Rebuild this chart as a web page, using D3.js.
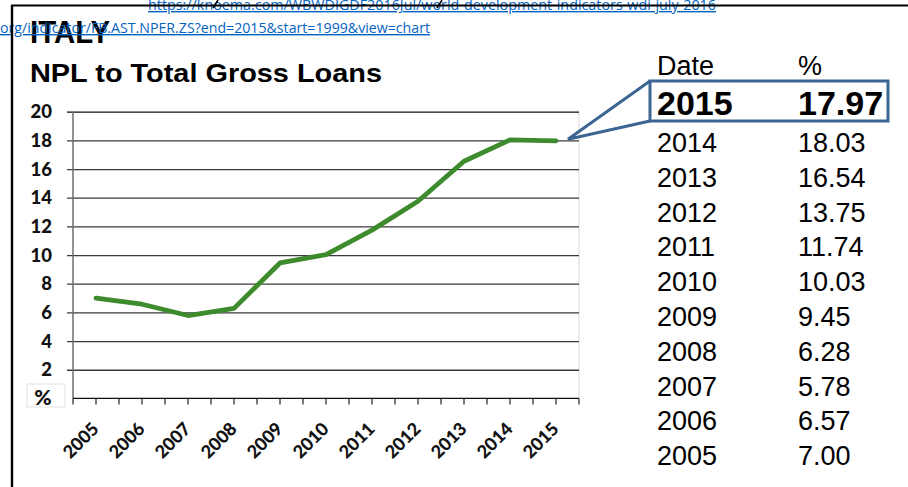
<!DOCTYPE html>
<html>
<head>
<meta charset="utf-8">
<script src="https://cdn.jsdelivr.net/npm/d3@7"></script>
<style>
  html, body { margin: 0; padding: 0; background: #fff; }
  svg { display: block; }
</style>
</head>
<body>
<svg id="chart" width="908" height="487"></svg>
<script>
// Italy: non-performing loans as a share of total gross loans (%)
const years = ["2005", "2006", "2007", "2008", "2009", "2010", "2011", "2012", "2013", "2014", "2015"];
const nplValues = [7.00, 6.57, 5.78, 6.28, 9.45, 10.03, 11.74, 13.75, 16.54, 18.03, 17.97];
const yTicks = [0, 2, 4, 6, 8, 10, 12, 14, 16, 18, 20];
const sourceLinks = [
  "https://knoema.com/WBWDIGDF2016Jul/world-development-indicators-wdi-july-2016",
  "org/indicator/FB.AST.NPER.ZS?end=2015&start=1999&view=chart"
];

const svg = d3.select("#chart");
const green = "#3d8b2d";
const calloutBlue = "#3c6591";

const plot = { left: 73, right: 579, top: 111.7, bottom: 398.4 };

const x = d3.scaleBand().domain(years).range([plot.left, plot.right]).padding(0);
const y = d3.scaleLinear().domain([0, 20]).range([plot.bottom, plot.top]);
const cx = d => x(d) + x.bandwidth() / 2;

// page background
svg.append("rect").attr("width", 908).attr("height", 487).attr("fill", "#fff");

// headline
svg.append("text")
  .attr("x", 30).attr("y", 43)
  .attr("font-family", "Liberation Sans, Arial, sans-serif")
  .attr("font-weight", "bold").attr("font-size", 31)
  .attr("textLength", 80).attr("lengthAdjust", "spacingAndGlyphs")
  .attr("fill", "#000").text("ITALY");

// source links
const linkStyle = sel => sel
  .attr("font-family", "Open Sans, Liberation Sans, sans-serif")
  .attr("font-size", 14).attr("fill", "#0563c1")
  .attr("text-decoration", "underline")
  .attr("lengthAdjust", "spacingAndGlyphs");
svg.append("text").attr("x", 148).attr("y", 10).attr("textLength", 568)
  .call(linkStyle).text(sourceLinks[0]);
svg.append("text").attr("x", 0).attr("y", 33).attr("textLength", 430)
  .call(linkStyle).text(sourceLinks[1]);

// accent fragments above the first link
[[213, 8, 218, 0], [437, 8, 442, 0]].forEach(s => {
  svg.append("line").attr("x1", s[0]).attr("y1", s[1]).attr("x2", s[2]).attr("y2", s[3])
    .attr("stroke", "#000").attr("stroke-width", 1.6);
});

// frame lines
svg.append("line").attr("x1", 11).attr("x2", 908).attr("y1", 5.5).attr("y2", 5.5)
  .attr("stroke", "#000").attr("stroke-width", 2.2);
svg.append("line").attr("x1", 12).attr("x2", 12).attr("y1", 5).attr("y2", 487)
  .attr("stroke", "#000").attr("stroke-width", 2.4);

// chart title
svg.append("text")
  .attr("x", 30).attr("y", 82)
  .attr("font-family", "Liberation Sans, Arial, sans-serif")
  .attr("font-weight", "bold").attr("font-size", 25)
  .attr("textLength", 352).attr("lengthAdjust", "spacingAndGlyphs")
  .attr("fill", "#000").text("NPL to Total Gross Loans");

// plot right border
svg.append("line").attr("x1", plot.right).attr("x2", plot.right)
  .attr("y1", plot.top).attr("y2", plot.bottom)
  .attr("stroke", "#d9d9d9").attr("stroke-width", 1);

// horizontal gridlines, extending left of the axis as tick marks
const yAxis = d3.axisRight(y).tickValues(yTicks.filter(d => d > 0))
  .tickSize(plot.right - plot.left + 6).tickFormat("");
const yg = svg.append("g").attr("transform", `translate(${plot.left - 6},0)`).call(yAxis);
yg.select(".domain").remove();
yg.selectAll(".tick line").attr("stroke", d => d === 20 ? "#111" : "#3a3a3a")
  .attr("stroke-width", 1.3);

// y tick labels, with "%" in place of zero
const yLab = svg.append("g");
yTicks.filter(d => d > 0).forEach(d => {
  yLab.append("text")
    .attr("x", 52).attr("y", y(d)).attr("dy", "0.35em")
    .attr("text-anchor", "end")
    .attr("font-family", "Lato, sans-serif").attr("font-weight", "900")
    .attr("font-size", 18.5).attr("fill", "#111").text(d);
});
yLab.append("rect").attr("x", 27).attr("y", 384).attr("width", 38).attr("height", 23)
  .attr("fill", "#fff").attr("stroke", "#e2e2e2").attr("stroke-width", 1);
yLab.append("text")
  .attr("x", 43).attr("y", 405).attr("text-anchor", "middle")
  .attr("font-family", "Lato, sans-serif").attr("font-weight", "900")
  .attr("font-size", 21).attr("fill", "#111").text("%");

// vertical axis
svg.append("line").attr("x1", plot.left).attr("x2", plot.left)
  .attr("y1", plot.top).attr("y2", plot.bottom)
  .attr("stroke", "#6e6e6e").attr("stroke-width", 1.5);

// x axis: ticks at category centres and boundaries
const xg = svg.append("g").attr("transform", `translate(0,${plot.bottom})`)
  .call(d3.axisBottom(x).tickSize(6).tickSizeOuter(0).tickFormat(""));
xg.select(".domain").attr("stroke", "#111").attr("stroke-width", 1.4)
  .attr("d", `M${plot.left},0H${plot.right}`);
xg.selectAll(".tick line").attr("stroke", "#222").attr("stroke-width", 1.2);
const bounds = years.map(d => x(d)).concat([x(years[years.length - 1]) + x.bandwidth()]);
xg.selectAll(".bound").data(bounds).enter().append("line")
  .attr("x1", d => d).attr("x2", d => d).attr("y1", 0).attr("y2", 6)
  .attr("stroke", "#222").attr("stroke-width", 1.2);

// rotated year labels
svg.append("g").selectAll("text").data(years).enter().append("text")
  .attr("transform", d => `translate(${cx(d) + 4},${430}) rotate(-45)`)
  .attr("text-anchor", "end")
  .attr("font-family", "Lato, sans-serif").attr("font-weight", "900")
  .attr("font-size", 18).attr("fill", "#111").text(d => d);

// NPL line
const line = d3.line().x((d, i) => cx(years[i])).y(d => y(d));
svg.append("path").datum(nplValues)
  .attr("d", line).attr("fill", "none")
  .attr("stroke", green).attr("stroke-width", 4.8)
  .attr("stroke-linejoin", "round").attr("stroke-linecap", "round");

// data table on the right
const tableFont = "Liberation Sans, Arial, sans-serif";
const colDate = 657, colVal = 798;
svg.append("text").attr("x", colDate).attr("y", 75).attr("font-family", tableFont)
  .attr("font-size", 27).attr("fill", "#000").text("Date");
svg.append("text").attr("x", colVal).attr("y", 75).attr("font-family", tableFont)
  .attr("font-size", 27).attr("fill", "#000").text("%");

const rows = years.map((yr, i) => ({ year: yr, value: nplValues[i] })).reverse();
const rowY = i => i === 0 ? 115 : 152 + (i - 1) * 34.8;
const tg = svg.append("g");
rows.forEach((r, i) => {
  const bold = i === 0;
  [[colDate, r.year], [colVal, r.value.toFixed(2)]].forEach(([tx, t]) => {
    tg.append("text").attr("x", tx).attr("y", rowY(i))
      .attr("font-family", tableFont)
      .attr("font-size", bold ? 34 : 27)
      .attr("font-weight", bold ? "bold" : "normal")
      .attr("fill", "#000").text(t);
  });
});

// callout from the latest point to the highlighted row
const last = years.length - 1;
const apex = [cx(years[last]) + 12, y(nplValues[last]) - 1.5];
const box = { x0: 650, y0: 81, x1: 888, y1: 121 };
svg.append("path")
  .attr("d", `M${box.x0},${box.y0}L${apex[0]},${apex[1]}L${box.x0},${box.y1}`)
  .attr("fill", "none").attr("stroke", calloutBlue).attr("stroke-width", 3)
  .attr("stroke-linejoin", "miter");
svg.append("rect")
  .attr("x", box.x0).attr("y", box.y0)
  .attr("width", box.x1 - box.x0).attr("height", box.y1 - box.y0)
  .attr("fill", "none").attr("stroke", calloutBlue).attr("stroke-width", 3);
</script>
</body>
</html>
